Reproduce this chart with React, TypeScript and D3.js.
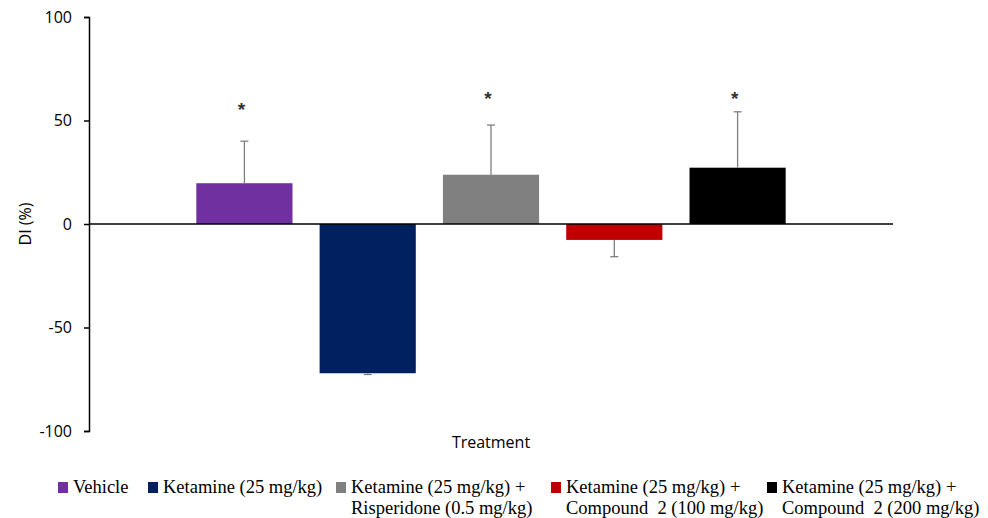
import React, { useEffect, useRef } from "react";
import * as d3 from "d3";

// one category on the x axis, five treatment series inside it
const category = "Treatment";
const series = [
  "Vehicle",
  "Ketamine (25 mg/kg)",
  "Ketamine (25 mg/kg) + Risperidone (0.5 mg/kg)",
  "Ketamine (25 mg/kg) + Compound 2 (100 mg/kg)",
  "Ketamine (25 mg/kg) + Compound 2 (200 mg/kg)",
];
const values = [19.7, -72.1, 23.8, -7.7, 27.2];
const errors = [20.3, 0.6, 24.0, 8.1, 27.0];
const stars = [57.5, null, 62.8, null, 62.8];
const colors = ["#7030a0", "#002060", "#808080", "#c00000", "#000000"];
const yTicks = [-100, -50, 0, 50, 100];

// legend lines (first line / second line)
const legendLines = [
  ["Vehicle"],
  ["Ketamine (25 mg/kg)"],
  ["Ketamine (25 mg/kg) +", "Risperidone (0.5 mg/kg)"],
  ["Ketamine (25 mg/kg) +", "Compound  2 (100 mg/kg)"],
  ["Ketamine (25 mg/kg) +", "Compound  2 (200 mg/kg)"],
];
const legendX = [58, 148, 336, 551, 767];

const width = 988;
const height = 518;
const left = 89;
const right = 893;
const sans = "'Open Sans', 'Liberation Sans', sans-serif";
const serif = "'Liberation Serif', 'Times New Roman', 'DejaVu Serif', serif";

const App = () => {
  const ref = useRef(null);

  useEffect(() => {
    const svg = d3.select(ref.current);
    svg.selectAll("*").remove();

    const y = d3.scaleLinear().domain([-100, 100]).range([431, 17]);
    const x0 = d3.scaleBand().domain([category]).range([left, right]).padding(0.132);
    const x1 = d3
      .scaleBand()
      .domain(series)
      .range([x0(category), x0(category) + x0.bandwidth()])
      .paddingInner(0.22)
      .paddingOuter(0.11);

    const g = svg.append("g");

    // bars
    g.selectAll("rect.bar")
      .data(series)
      .enter()
      .append("rect")
      .attr("class", "bar")
      .attr("x", d => x1(d))
      .attr("width", x1.bandwidth())
      .attr("y", (d, i) => y(Math.max(0, values[i])))
      .attr("height", (d, i) => Math.abs(y(values[i]) - y(0)))
      .attr("fill", (d, i) => colors[i]);

    // error bars, away from zero
    const err = g.selectAll("g.err").data(series).enter().append("g").attr("class", "err");
    const tip = i => values[i] + Math.sign(values[i]) * errors[i];
    err
      .append("line")
      .attr("x1", d => x1(d) + x1.bandwidth() / 2)
      .attr("x2", d => x1(d) + x1.bandwidth() / 2)
      .attr("y1", (d, i) => y(values[i]))
      .attr("y2", (d, i) => y(tip(i)))
      .attr("stroke", "#7f7f7f")
      .attr("stroke-width", 1.3);
    err
      .append("line")
      .attr("x1", d => x1(d) + x1.bandwidth() / 2 - 4)
      .attr("x2", d => x1(d) + x1.bandwidth() / 2 + 4)
      .attr("y1", (d, i) => y(tip(i)))
      .attr("y2", (d, i) => y(tip(i)))
      .attr("stroke", "#7f7f7f")
      .attr("stroke-width", 1.3);

    // asterisks
    g.selectAll("text.star")
      .data(series.filter((d, i) => stars[i] != null))
      .enter()
      .append("text")
      .attr("class", "star")
      .attr("x", d => x1(d) + x1.bandwidth() / 2 - 3)
      .attr("y", d => y(stars[series.indexOf(d)]) + 11)
      .attr("text-anchor", "middle")
      .style("font-family", "'Liberation Sans', sans-serif")
      .style("font-size", "19px")
      .style("font-weight", "bold")
      .attr("fill", "#333")
      .text("*");

    // zero line
    g.append("line")
      .attr("x1", left)
      .attr("x2", right)
      .attr("y1", y(0))
      .attr("y2", y(0))
      .attr("stroke", "#000")
      .attr("stroke-width", 1.5);

    // y axis
    const yAxis = g
      .append("g")
      .attr("transform", `translate(${left},0)`)
      .call(
        d3
          .axisLeft(y)
          .tickValues(yTicks)
          .tickSize(5)
          .tickPadding(12)
          .tickFormat(d => String(d))
      );
    yAxis.select(".domain").attr("stroke", "#000").attr("stroke-width", 1.5);
    yAxis.selectAll(".tick line").attr("stroke", "#000").attr("stroke-width", 1.5);
    yAxis
      .selectAll(".tick text")
      .style("font-family", sans)
      .style("font-size", "16px")
      .attr("fill", "#000");

    // axis titles
    g.append("text")
      .attr("transform", `translate(31,${y(0)}) rotate(-90)`)
      .attr("text-anchor", "middle")
      .style("font-family", sans)
      .style("font-size", "16px")
      .text("DI (%)");
    g.append("text")
      .attr("x", x0(category) + x0.bandwidth() / 2)
      .attr("y", 448)
      .attr("text-anchor", "middle")
      .style("font-family", sans)
      .style("font-size", "16px")
      .text(category);

    // legend
    const leg = g
      .selectAll("g.leg")
      .data(series)
      .enter()
      .append("g")
      .attr("class", "leg")
      .attr("transform", (d, i) => `translate(${legendX[i]},0)`);
    leg
      .append("rect")
      .attr("y", 482)
      .attr("width", 10)
      .attr("height", 11)
      .attr("fill", (d, i) => colors[i]);
    leg
      .append("text")
      .style("font-family", serif)
      .style("font-size", "18.5px")
      .style("white-space", "pre")
      .attr("fill", "#000")
      .selectAll("tspan")
      .data((d, i) => legendLines[i])
      .enter()
      .append("tspan")
      .attr("x", 15)
      .attr("y", (d, j) => 493 + j * 21)
      .text(d => d);
  }, []);

  return (
    <svg ref={ref} width={width} height={height} style={{ position: "absolute", left: 0, top: 0, background: "#fff" }} />
  );
};

export default App;
